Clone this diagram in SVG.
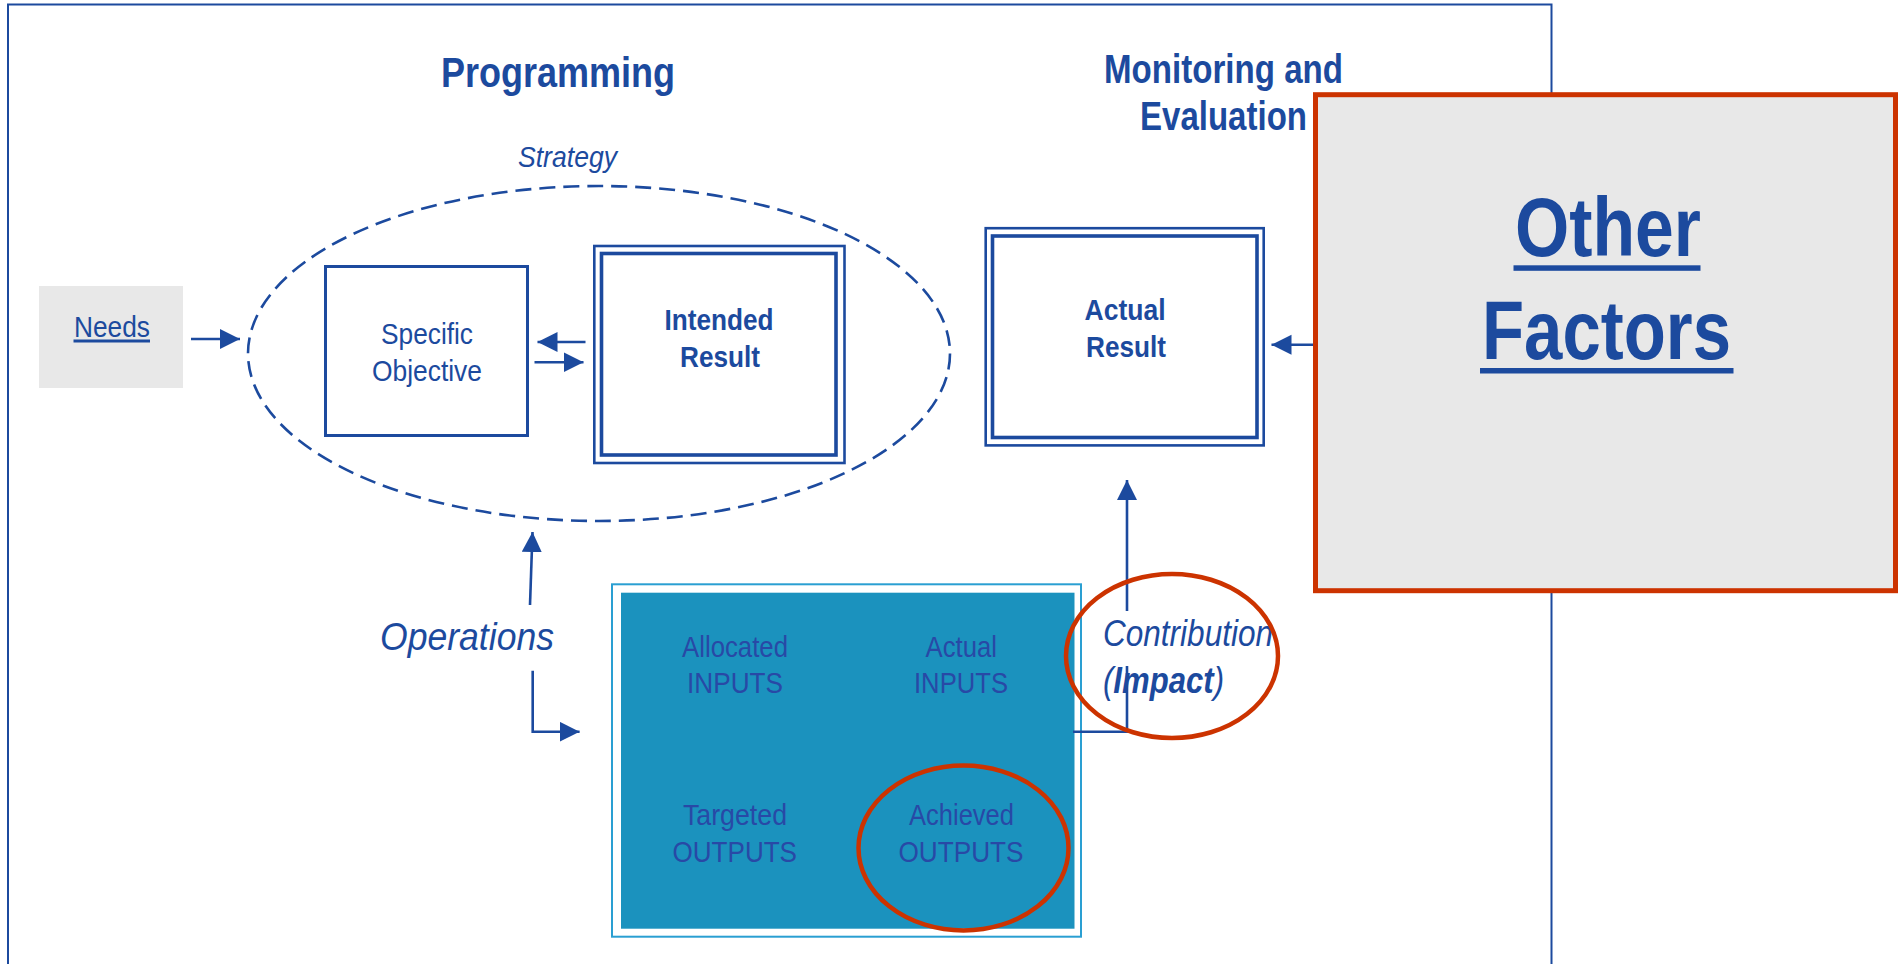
<svg xmlns="http://www.w3.org/2000/svg" width="1898" height="964" viewBox="0 0 1898 964">
<style>
text{font-family:"Liberation Sans",Arial,sans-serif;fill:#1C4A9E}
.b{font-weight:bold}
.i{font-style:italic}
.box{fill:#fff;stroke:#1C4A9E}
.con{fill:none;stroke:#1C4A9E;stroke-width:2.6}
.red{fill:none;stroke:#CC3300;stroke-width:4.5}
.tin{fill:#2849A6}
</style>
<defs>
<marker id="ah" markerUnits="userSpaceOnUse" markerWidth="22" markerHeight="22" refX="20" refY="10" orient="auto">
<path d="M0,0 L20,10 L0,20 Z" fill="#1C4A9E"/>
</marker>
</defs>
<rect x="0" y="0" width="1898" height="964" fill="#fff"/>
<g id="frame">
<path d="M8,980 V4.5 H1551.5 V980" fill="none" stroke="#1C4A9E" stroke-width="2"/>
</g>
<g id="titles">
<text x="441" y="87" font-size="42" class="b" textLength="234" lengthAdjust="spacingAndGlyphs">Programming</text>
<text x="1104" y="83" font-size="40" class="b" textLength="239" lengthAdjust="spacingAndGlyphs">Monitoring and</text>
<text x="1140" y="129.5" font-size="40" class="b" textLength="167" lengthAdjust="spacingAndGlyphs">Evaluation</text>
</g>
<g id="strategy">
<ellipse cx="599" cy="353.5" rx="351" ry="167.5" fill="none" stroke="#1C4A9E" stroke-width="2.6" stroke-dasharray="16 8"/>
<text x="518" y="166.5" font-size="29" class="i" textLength="99" lengthAdjust="spacingAndGlyphs">Strategy</text>
</g>
<g id="needs">
<rect x="39" y="286" width="144" height="102" fill="#E8E8E8"/>
<text x="74" y="336.5" font-size="30" textLength="76" lengthAdjust="spacingAndGlyphs">Needs</text>
<rect x="73.5" y="339.5" width="76.5" height="3" fill="#1C4A9E"/>
</g>
<g id="specific-objective">
<rect class="box" x="325.5" y="266.5" width="202" height="169" stroke-width="3"/>
<text x="381" y="344" font-size="30" textLength="92" lengthAdjust="spacingAndGlyphs">Specific</text>
<text x="372" y="381" font-size="30" textLength="110" lengthAdjust="spacingAndGlyphs">Objective</text>
</g>
<g id="intended-result">
<rect class="box" x="594.3" y="246" width="250.2" height="217" stroke-width="2.6"/>
<rect class="box" x="601.5" y="253.5" width="234.5" height="201.5" stroke-width="3.6"/>
<text x="664.5" y="330" font-size="29" class="b" textLength="109" lengthAdjust="spacingAndGlyphs">Intended</text>
<text x="680" y="367.3" font-size="29" class="b" textLength="80" lengthAdjust="spacingAndGlyphs">Result</text>
</g>
<g id="actual-result">
<rect class="box" x="985.7" y="228.2" width="278" height="217.2" stroke-width="2.6"/>
<rect class="box" x="992.5" y="236" width="264.5" height="201.5" stroke-width="3.6"/>
<text x="1084.5" y="320" font-size="29" class="b" textLength="81" lengthAdjust="spacingAndGlyphs">Actual</text>
<text x="1086" y="357" font-size="29" class="b" textLength="80" lengthAdjust="spacingAndGlyphs">Result</text>
</g>
<g id="other-factors">
<rect x="1315.5" y="94.7" width="580" height="496" fill="#E8E8E8" stroke="#CC3300" stroke-width="5"/>
<text x="1515" y="256" font-size="84" class="b" textLength="186" lengthAdjust="spacingAndGlyphs">Other</text>
<rect x="1513.5" y="265.3" width="187" height="5.5" fill="#1C4A9E"/>
<text x="1482" y="359" font-size="84" class="b" textLength="249" lengthAdjust="spacingAndGlyphs">Factors</text>
<rect x="1480" y="368" width="253.5" height="5.5" fill="#1C4A9E"/>
</g>
<g id="operations">
<text x="380" y="650" font-size="39" class="i" textLength="174" lengthAdjust="spacingAndGlyphs">Operations</text>
</g>
<g id="inputs-outputs">
<rect x="612" y="584.3" width="469" height="352.4" fill="#fff" stroke="#2A9FD2" stroke-width="2"/>
<rect x="621" y="592.7" width="453.5" height="336" fill="#1B92BE"/>
<text class="tin" x="682" y="656.7" font-size="29" textLength="106" lengthAdjust="spacingAndGlyphs">Allocated</text>
<text class="tin" x="687" y="693.3" font-size="29" textLength="96" lengthAdjust="spacingAndGlyphs">INPUTS</text>
<text class="tin" x="925.5" y="656.7" font-size="29" textLength="71.5" lengthAdjust="spacingAndGlyphs">Actual</text>
<text class="tin" x="914" y="693.3" font-size="29" textLength="94" lengthAdjust="spacingAndGlyphs">INPUTS</text>
<text class="tin" x="683" y="825" font-size="29" textLength="104" lengthAdjust="spacingAndGlyphs">Targeted</text>
<text class="tin" x="672.5" y="861.7" font-size="29" textLength="124.5" lengthAdjust="spacingAndGlyphs">OUTPUTS</text>
<text class="tin" x="909" y="825" font-size="29" textLength="105" lengthAdjust="spacingAndGlyphs">Achieved</text>
<text class="tin" x="898.5" y="861.7" font-size="29" textLength="125" lengthAdjust="spacingAndGlyphs">OUTPUTS</text>
</g>
<g id="connectors">
<path class="con" d="M191,339 H240" stroke-width="3" marker-end="url(#ah)"/>
<path class="con" d="M585.5,342 H537.5" stroke-width="3" marker-end="url(#ah)"/>
<path class="con" d="M534.5,362.3 H583.5" stroke-width="3" marker-end="url(#ah)"/>
<path class="con" d="M1313,344.7 H1271.5" stroke-width="3" marker-end="url(#ah)"/>
<path class="con" d="M1073,731.7 H1127 V666 M1127,611 V480" marker-end="url(#ah)"/>
<path class="con" d="M530,605 L532.5,532" stroke-width="2.2" marker-end="url(#ah)"/>
<path class="con" d="M532.7,670.7 V731.7 H579.6" marker-end="url(#ah)"/>
</g>
<g id="contribution">
<text x="1103" y="646" font-size="36" class="i" textLength="170" lengthAdjust="spacingAndGlyphs">Contribution</text>
<text x="1103" y="693.3" font-size="36" class="i" textLength="121" lengthAdjust="spacingAndGlyphs">(<tspan class="b">Impact</tspan>)</text>
</g>
<g id="highlights">
<ellipse class="red" cx="1172" cy="656" rx="106" ry="82"/>
<ellipse class="red" cx="963.5" cy="848" rx="105" ry="82.5"/>
</g>
</svg>
